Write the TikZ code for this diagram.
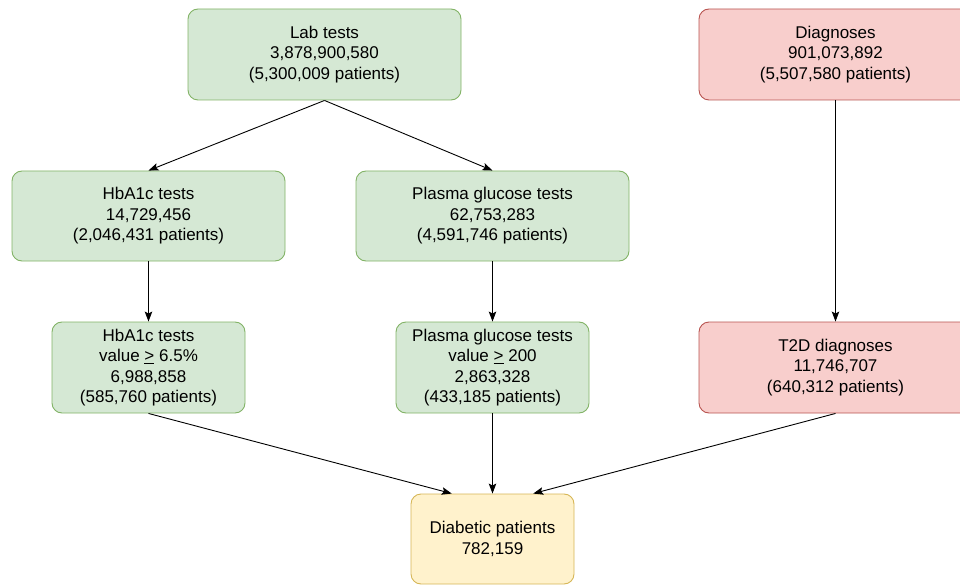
\documentclass[tikz,border=0pt]{standalone}
\usepackage{fontspec}
\setmainfont{Liberation Sans}
\usetikzlibrary{arrows.meta}
\definecolor{gfill}{HTML}{D5E8D4}
\definecolor{gline}{HTML}{82B366}
\definecolor{rfill}{HTML}{F8CECC}
\definecolor{rline}{HTML}{B85450}
\definecolor{yfill}{HTML}{FFF2CC}
\definecolor{yline}{HTML}{D6B656}
\newcommand{\geqmark}{\underline{>}}
\tikzset{
  box/.style={rectangle, rounded corners=10pt, line width=0.9pt, align=center,
    inner sep=0pt, font=\fontsize{17}{20.4}\selectfont},
  gbox/.style={box, fill=gfill, draw=gline},
  rbox/.style={box, fill=rfill, draw=rline},
  ybox/.style={box, fill=yfill, draw=yline},
  wide/.style={minimum width=273pt, minimum height=91pt},
  narrow/.style={minimum width=193pt, minimum height=91pt},
  arr/.style={line width=0.9pt, -{Stealth[length=10pt,width=7.5pt,inset=2pt]}}
}
\begin{document}
\begin{tikzpicture}[x=1pt,y=-1pt]
\useasboundingbox (0,0) rectangle (960,585);
\clip (0,0) rectangle (960,585);
\node[gbox, wide] (lab) at (324.5,54.5) {Lab tests\\3,878,900,580\\(5,300,009 patients)};
\node[rbox, wide] (diag) at (835.5,54.5) {Diagnoses\\901,073,892\\(5,507,580 patients)};
\node[gbox, wide, minimum height=90pt] (hba) at (148.5,216) {HbA1c tests\\14,729,456\\(2,046,431 patients)};
\node[gbox, wide, minimum height=90pt] (pg) at (492.5,216) {Plasma glucose tests\\62,753,283\\(4,591,746 patients)};
\node[gbox, narrow] (hbav) at (148.5,367.5) {HbA1c tests\\value \geqmark\ 6.5\%\\6,988,858\\(585,760 patients)};
\node[gbox, narrow] (pgv) at (492.5,367.5) {Plasma glucose tests\\value \geqmark\ 200\\2,863,328\\(433,185 patients)};
\node[rbox, wide] (t2d) at (835.5,367.5) {T2D diagnoses\\11,746,707\\(640,312 patients)};
\node[ybox, minimum width=163pt, minimum height=90pt] (dp) at (492.5,539) {Diabetic patients\\782,159};
\draw[arr] (lab.south) -- (hba.north);
\draw[arr] (lab.south) -- (pg.north);
\draw[arr] (hba.south) -- (hbav.north);
\draw[arr] (pg.south) -- (pgv.north);
\draw[arr] (diag.south) -- (t2d.north);
\draw[arr] (hbav.south) -- ([xshift=-40.75pt]dp.north);
\draw[arr] (pgv.south) -- (dp.north);
\draw[arr] (t2d.south) -- ([xshift=40.75pt]dp.north);
\end{tikzpicture}
\end{document}
